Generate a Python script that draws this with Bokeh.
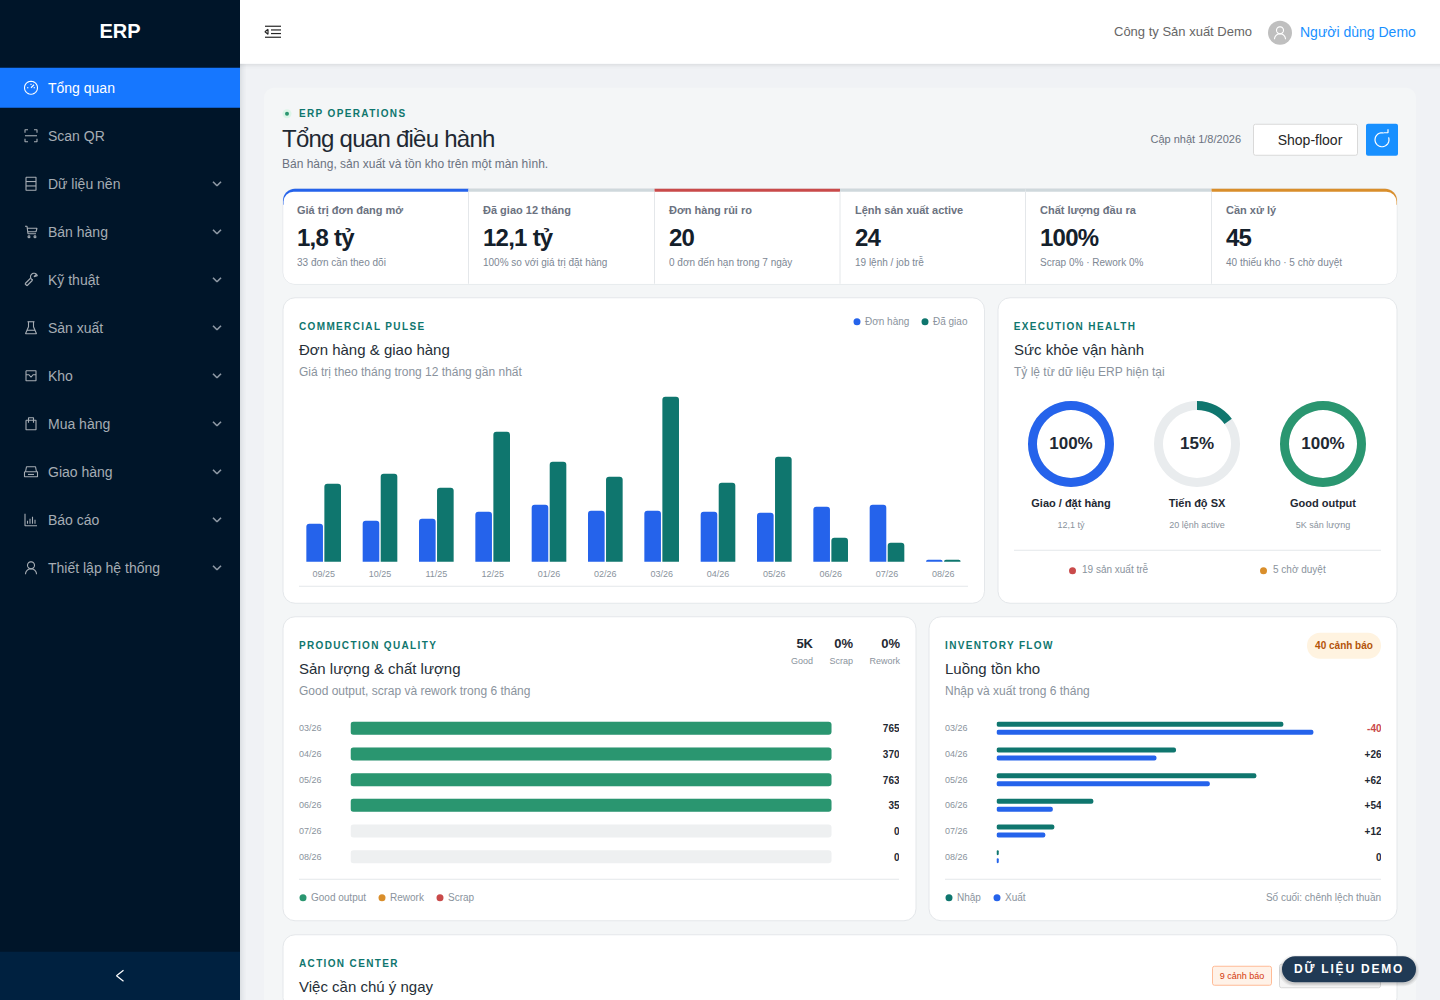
import math
from bokeh.core.properties import value
from bokeh.plotting import figure
from bokeh.layouts import column
from bokeh.models import ColumnDataSource, FactorRange, Range1d
from bokeh.transform import dodge
from bokeh.embed import file_html
from bokeh.resources import INLINE

# ---------- data ----------
menu_items = ["Tổng quan", "Scan QR", "Dữ liệu nền", "Bán hàng", "Kỹ thuật", "Sản xuất", "Kho",
              "Mua hàng", "Giao hàng", "Báo cáo", "Thiết lập hệ thống"]
menu_icons = ["dash", "scan", "db", "cart", "tool", "flask", "inbox", "bag", "car", "chart", "user"]

kpi_labels = ["Giá trị đơn đang mở", "Đã giao 12 tháng", "Đơn hàng rủi ro", "Lệnh sản xuất active",
              "Chất lượng đầu ra", "Cần xử lý"]
kpi_values = ["1,8 tỷ", "12,1 tỷ", "20", "24", "100%", "45"]
kpi_notes = ["33 đơn cần theo dõi", "100% so với giá trị đặt hàng", "0 đơn đến hạn trong 7 ngày",
             "19 lệnh / job trễ", "Scrap 0% · Rework 0%", "40 thiếu kho · 5 chờ duyệt"]

months_12 = ["09/25", "10/25", "11/25", "12/25", "01/26", "02/26", "03/26", "04/26", "05/26", "06/26", "07/26", "08/26"]
orders_value = [485, 523, 548, 638, 727, 650, 650, 638, 625, 701, 727, 25]
delivered_value = [995, 1122, 944, 1658, 1275, 1084, 2104, 1007, 1339, 306, 242, 25]

ring_labels = ["Giao / đặt hàng", "Tiến độ SX", "Good output"]
ring_values = [100, 15, 100]
ring_notes = ["12,1 tỷ", "20 lệnh active", "5K sản lượng"]

months_6 = ["03/26", "04/26", "05/26", "06/26", "07/26", "08/26"]
good_output = [765, 370, 763, 35, 0, 0]
rework_output = [0, 0, 0, 0, 0, 0]
scrap_output = [0, 0, 0, 0, 0, 0]

stock_in = [382, 239, 346, 129, 77, 0]
stock_out = [422, 213, 284, 75, 65, 0]

# ---------- style ----------
FONT = "Liberation Sans"
BLUE, TEAL, GREEN, RED, ORANGE = "#2563eb", "#0f766e", "#2a9670", "#c94a4a", "#d98e2b"
INK, GRAY, MUTED, LINE = "#1f2933", "#6b7280", "#8a939d", "#e4e7ea"
SLATE = "#cfd8dc"
DX, DY = 0.5, 0.25


def layer(left=0, top=0, width=1441, height=1001, spacing=None, x_range=None, y_range=None, **kw):
    styles = {"position": "absolute", "left": f"{left}px", "top": f"{top}px"}
    if spacing:
        styles["letter-spacing"] = spacing
    kw.setdefault("x_axis_location", None)
    kw.setdefault("y_axis_location", None)
    for side in ("left", "right", "top", "bottom"):
        kw.setdefault(f"min_border_{side}", 0)
    p = figure(width=width, height=height, output_backend="svg", toolbar_location=None,
               x_range=x_range if x_range is not None else Range1d(left - DX, left + width - DX),
               y_range=y_range if y_range is not None else Range1d(top + height - DY, top - DY),
               background_fill_color=None, border_fill_color=None, outline_line_color=None,
               frame_align=False, styles=styles, **kw)
    p.grid.visible = False
    return p


def T(p, x, y, s, size, color, bold=False, align="left"):
    p.text(x=[x], y=[y], text=[s], text_font=value(FONT), text_font_size=f"{size}px",
           text_font_style="bold" if bold else "normal", text_color=color,
           text_align=align, text_baseline="middle")


def box(p, l, t, r, b, fill, line=None, radius=0, width=1):
    p.quad(left=[l], right=[r], top=[t], bottom=[b], fill_color=fill, line_color=line,
           line_width=width, border_radius=radius)


def dot(p, x, y, r, color, alpha=1.0):
    p.circle(x=[x], y=[y], radius=r, fill_color=color, fill_alpha=alpha, line_color=None)


def arc(cx, cy, r, a0, a1, n=24):
    return [(cx + r * math.cos(a0 + (a1 - a0) * i / n), cy + r * math.sin(a0 + (a1 - a0) * i / n)) for i in range(n + 1)]


def rect_path(l, t, r, b):
    return [(l, t), (r, t), (r, b), (l, b), (l, t)]


TAU = 2 * math.pi
ICONS = {
    "dash": [arc(0, 0, 6.5, 0, TAU), [(0, 0), (3, -3)], [(-4, 0), (-2.6, 0)], [(0, -4), (0, -2.8)], [(2.6, 0), (4, 0)]],
    "scan": [[(-6, -3), (-6, -6), (-3, -6)], [(3, -6), (6, -6), (6, -3)], [(-6, 3), (-6, 6), (-3, 6)],
             [(3, 6), (6, 6), (6, 3)], [(-6, 0), (6, 0)]],
    "db": [rect_path(-5, -6.5, 5, 6.5), [(-5, -2.2), (5, -2.2)], [(-5, 2.2), (5, 2.2)]],
    "cart": [[(-6, -5.5), (-4, -5.5), (-3, 2), (5, 2)], [(-4, -3.5), (6, -3.5), (5, 0), (-3.4, 0)],
             arc(-2, 5, 1, 0, TAU, 8), arc(4, 5, 1, 0, TAU, 8)],
    "tool": [[(-6, 4), (-0.5, -1.5)], [(-4, 6), (1.5, 0.5)], [(-6, 4), (-4, 6)],
             arc(3, -3, 3.5, 1.9, TAU - 0.3, 14) + [(3, -3), (5.5, -5.5)]],
    "flask": [[(-3.5, -6), (3.5, -6)], [(-2.5, -6), (-2.5, -1), (-5.5, 6), (5.5, 6), (2.5, -1), (2.5, -6)], [(-4, 2.5), (4, 2.5)]],
    "inbox": [rect_path(-5, -5, 5, 5), [(-5, -1), (-2, -1), (0, 1.5), (2, -1), (5, -1)]],
    "bag": [rect_path(-5, -3.5, 5, 6), [(-2.5, -1), (-2.5, -6), (2.5, -6), (2.5, -1)]],
    "car": [[(-5.5, 0), (-4.5, -5), (4.5, -5), (5.5, 0)], rect_path(-6.5, 0, 6.5, 5), [(-3, 2.7), (3, 2.7)]],
    "chart": [[(-6, -6), (-6, 6), (6, 6)], [(-3.5, 4), (-3.5, 1)], [(-1, 4), (-1, -1)], [(1.5, 4), (1.5, -3)], [(4, 4), (4, 0)]],
    "user": [arc(0, -2.5, 3.5, 0, TAU), arc(0, 6.5, 5.5, math.pi, TAU, 14)],
}


def icon(p, kind, cx, cy, color, width=1.1, scale=1.0):
    xs = [[cx + a * scale for a, _ in path] for path in ICONS[kind]]
    ys = [[cy + b * scale for _, b in path] for path in ICONS[kind]]
    p.multi_line(xs=xs, ys=ys, line_color=color, line_width=width)


# ---------- chrome ----------
base = layer()
box(base, 240, -5, 1445, 1005, "#f0f2f5")
box(base, 264, 88, 1416, 1010, "#f4f6f7", radius=10)
for i, a in enumerate([0.07, 0.05, 0.035, 0.02, 0.01]):
    box(base, 240, 64 + i, 1445, 65 + i, "#000000")
    base.renderers[-1].glyph.fill_alpha = a
    base.renderers[-1].glyph.line_alpha = 0
box(base, 240, -5, 1445, 64, "#ffffff")
for i, a in enumerate([0.08, 0.06, 0.045, 0.03, 0.02, 0.01]):
    box(base, 240 + i, 64, 241 + i, 1005, "#001529")
    base.renderers[-1].glyph.fill_alpha = a
box(base, -5, -5, 240, 1005, "#001529")
box(base, -5, 952, 240, 1005, "#002140")
box(base, -5, 68, 240, 108, "#1677ff")
T(base, 120, 31, "ERP", 20, "#ffffff", True, "center")
for i, (name, kind) in enumerate(zip(menu_items, menu_icons)):
    yc = 88 + 48 * i
    col = "#ffffff" if i == 0 else "#a6adb4"
    icon(base, kind, 31, yc, col)
    T(base, 48, yc, name, 14, col)
    if i >= 2:
        base.multi_line(xs=[[213, 217, 221]], ys=[[yc - 2, yc + 2, yc - 2]], line_color="#8e99a5", line_width=1.6)
base.multi_line(xs=[[123.5, 116.5, 123.5]], ys=[[970.5, 976, 981.5]], line_color="#ffffff", line_width=1.2)

# header
base.multi_line(xs=[[265, 281], [271, 281], [271, 281], [265, 281], [268, 265, 268, 268]],
                ys=[[26.5, 26.5], [30.2, 30.2], [33.8, 33.8], [37.5, 37.5], [29.5, 32, 34.5, 29.5]],
                line_color="#262626", line_width=1.2)
T(base, 1114, 32, "Công ty Sản xuất Demo", 13, "#666666")
dot(base, 1280, 33, 12, "#bfbfbf")
icon(base, "user", 1280, 33, "#ffffff", 1.1)
T(base, 1300, 32, "Người dùng Demo", 14, "#1890ff")

# page head
dot(base, 287, 114, 4.5, "#dcf5e8")
dot(base, 287, 114, 2, GREEN)
T(base, 282, 164, "Bán hàng, sản xuất và tồn kho trên một màn hình.", 12, GRAY)
T(base, 1241, 139.5, "Cập nhật 1/8/2026", 11, GRAY, False, "right")
box(base, 1253.5, 124.5, 1357.5, 155.5, "#ffffff", "#d9d9d9", 2)
T(base, 1310, 140, "Shop-floor", 14, "#262626", False, "center")
box(base, 1366, 124, 1398, 156, "#1890ff", None, 2)
base.multi_line(xs=[[p[0] for p in arc(1382, 140, 7, -0.35, TAU - 1.3)], [1384, 1388, 1388]],
                ys=[[p[1] for p in arc(1382, 140, 7, -0.35, TAU - 1.3)], [133, 133, 129.5]],
                line_color="#ffffff", line_width=1.2)

# KPI strip
kpi_edges = [283, 468.5, 654.5, 840, 1025.5, 1211.5, 1397]
kpi_bars = [BLUE, SLATE, RED, SLATE, SLATE, ORANGE]
box(base, 283, 189, 1397, 284.5, "#ffffff", LINE, 12)
for i, col in enumerate(kpi_bars):
    rad = (12, 0, 0, 0) if i == 0 else (0, 12, 0, 0) if i == 5 else 0
    box(base, kpi_edges[i], 189, kpi_edges[i + 1], 205, col, None, rad)
box(base, 283.5, 192, 1396.5, 284, "#ffffff", None, (10, 10, 11, 11))
for i in range(1, 6):
    base.line(x=[kpi_edges[i]] * 2, y=[192, 284], line_color=LINE, line_width=1)
for i, x in enumerate([297, 483, 669, 855, 1040, 1226]):
    T(base, x, 210.5, kpi_labels[i], 11, GRAY, True)
    T(base, x, 262.5, kpi_notes[i], 10, "#7d8794")

# cards
for l, t, r, b in [(283, 298, 984.5, 603.5), (998, 298, 1397, 603.5), (283, 617, 916, 921), (929, 617, 1397, 921), (283, 935, 1397, 1010)]:
    box(base, l, t, r, b, "#ffffff", LINE, 12)

TITLE = "#262f38"
for x, y, title, sub in [(299, 350, "Đơn hàng & giao hàng", "Giá trị theo tháng trong 12 tháng gần nhất"),
                         (1014, 350, "Sức khỏe vận hành", "Tỷ lệ từ dữ liệu ERP hiện tại"),
                         (299, 669, "Sản lượng & chất lượng", "Good output, scrap và rework trong 6 tháng"),
                         (945, 669, "Luồng tồn kho", "Nhập và xuất trong 6 tháng"),
                         (299, 987, "Việc cần chú ý ngay", "")]:
    T(base, x, y, title, 15, TITLE)
    if sub:
        T(base, x, y + 22.5, sub, 12, MUTED)

# commercial legend and divider
dot(base, 857, 322, 3.5, BLUE)
T(base, 865, 322, "Đơn hàng", 10, MUTED)
dot(base, 925, 322, 3.5, TEAL)
T(base, 933, 322, "Đã giao", 10, MUTED)
base.line(x=[299, 968], y=[586.5, 586.5], line_color=LINE)

# health texts
ring_centers = [1071, 1197, 1323]
for cx, lab, note in zip(ring_centers, ring_labels, ring_notes):
    T(base, cx, 503.5, lab, 11, INK, True, "center")
    T(base, cx, 525, note, 9, MUTED, False, "center")
base.line(x=[1014, 1381], y=[550.5, 550.5], line_color=LINE)
dot(base, 1072.5, 571, 3.5, RED)
T(base, 1082, 570, "19 sản xuất trễ", 10, MUTED)
dot(base, 1263.5, 571, 3.5, ORANGE)
T(base, 1273, 570, "5 chờ duyệt", 10, MUTED)

# production stats
for xr, val, lab in [(813, "5K", "Good"), (853, "0%", "Scrap"), (900, "0%", "Rework")]:
    T(base, xr, 643.5, val, 13, INK, True, "right")
    T(base, xr, 661, lab, 9, MUTED, False, "right")
base.line(x=[299, 899], y=[879.5, 879.5], line_color=LINE)
for dx, tx, col, lab in [(303, 311, GREEN, "Good output"), (382, 390, ORANGE, "Rework"), (440, 448, RED, "Scrap")]:
    dot(base, dx, 898, 3.5, col)
    T(base, tx, 898, lab, 10, MUTED)

# inventory extras
box(base, 1307, 633, 1381, 659, "#fff3e0", None, 13)
T(base, 1344, 645.5, "40 cảnh báo", 10, "#b45309", True, "center")
base.line(x=[945, 1381], y=[879.5, 879.5], line_color=LINE)
for dx, tx, col, lab in [(949, 957, TEAL, "Nhập"), (997, 1005, BLUE, "Xuất")]:
    dot(base, dx, 898, 3.5, col)
    T(base, tx, 898, lab, 10, MUTED)
T(base, 1381, 898, "Số cuối: chênh lệch thuần", 10, MUTED, False, "right")

# action center extras
box(base, 1212.5, 966.5, 1271.5, 985.5, "#fff2e8", "#ffbb96", 2)
T(base, 1242, 976, "9 cảnh báo", 9, "#d4380d", False, "center")
box(base, 1279.5, 964.5, 1380.5, 988, "#f5f5f5", "#d9d9d9", 2)

# spaced text layers
tight = layer(spacing="-0.75px")
T(tight, 282, 139, "Tổng quan điều hành", 24, INK)
for x, val in zip([297, 483, 669, 855, 1040, 1226], kpi_values):
    T(tight, x, 238, val, 24, "#14202b", True)

wide = layer(spacing="1.35px")
for x, y, s in [(299, 114, "ERP OPERATIONS"), (299, 326.7, "COMMERCIAL PULSE"), (1013.7, 326.7, "EXECUTION HEALTH"),
                (299, 645.7, "PRODUCTION QUALITY"), (945, 645.7, "INVENTORY FLOW"), (299, 963.7, "ACTION CENTER")]:
    T(wide, x, y, s, 10, TEAL, True)

# ---------- orders vs delivered ----------
bar_x = FactorRange(factors=months_12, range_padding=0)
bars = layer(left=296, top=393, width=676, height=194, x_range=bar_x, y_range=Range1d(-9.5, 2158),
             x_axis_location="below", min_border_bottom=24)
bar_src = ColumnDataSource(dict(month=months_12, orders=orders_value, delivered=delivered_value))
bars.vbar(x=dodge("month", -0.16, range=bar_x), top="orders", bottom=0, width=0.295, source=bar_src,
          fill_color=BLUE, line_color=None, border_radius=(3, 3, 0, 0))
bars.vbar(x=dodge("month", 0.16, range=bar_x), top="delivered", bottom=0, width=0.295, source=bar_src,
          fill_color=TEAL, line_color=None, border_radius=(3, 3, 0, 0))
bars.xaxis.axis_line_color = None
bars.xaxis.major_tick_line_color = None
bars.xaxis.minor_tick_line_color = None
bars.xaxis.major_tick_out = 0
bars.xaxis.major_tick_in = 0
bars.xaxis.major_label_text_font = FONT
bars.xaxis.major_label_text_font_size = "9px"
bars.xaxis.major_label_text_color = MUTED
bars.xaxis.major_label_standoff = 6

# ---------- rings ----------
rings = []
ring_colors = [BLUE, TEAL, GREEN]
for cx, val, col in zip(ring_centers, ring_values, ring_colors):
    r = layer(left=cx - 44, top=400, width=90, height=90, x_range=Range1d(-44.5, 45.5), y_range=Range1d(-45.5, 44.5))
    r.annular_wedge(x=[0], y=[0], inner_radius=34, outer_radius=43, start_angle=0, end_angle=TAU * 0.99999,
                    fill_color="#e9ecee", line_color=None)
    r.annular_wedge(x=[0], y=[0], inner_radius=34, outer_radius=43, start_angle=math.pi / 2,
                    end_angle=math.pi / 2 - TAU * min(val / 100, 0.99999), direction="clock",
                    fill_color=col, line_color=None)
    T(r, 0, 0.5, f"{val}%", 17, INK, True, "center")
    rings.append(r)


# ---------- row charts ----------
def row_chart(left, width, x_end, frame_left):
    y_r = FactorRange(factors=months_6[::-1], range_padding=0)
    f = layer(left=left, top=716, width=width, height=154, x_range=Range1d(0, x_end), y_range=y_r,
              y_axis_location="left", min_border_left=frame_left)
    f.yaxis.axis_line_color = None
    f.yaxis.major_tick_line_color = None
    f.yaxis.minor_tick_line_color = None
    f.yaxis.major_tick_out = 0
    f.yaxis.major_tick_in = 0
    f.yaxis.major_label_text_font = FONT
    f.yaxis.major_label_text_font_size = "9px"
    f.yaxis.major_label_text_color = MUTED
    f.yaxis.major_label_standoff = frame_left - 27
    return f, y_r


# production: each row is a 100% share bar
totals = [g + r + s for g, r, s in zip(good_output, rework_output, scrap_output)]
good_share = [g / t if t else 0 for g, t in zip(good_output, totals)]
rework_share = [r / t if t else 0 for r, t in zip(rework_output, totals)]
prod_end = 549 / 481
prod, prod_y = row_chart(295, 605, prod_end, 56)
prod_src = ColumnDataSource(dict(
    month=months_6, zero=[0] * 6, one=[1] * 6, good=good_share,
    rework=[g + r for g, r in zip(good_share, rework_share)],
    full=[1 if t else 0 for t in totals], end=[prod_end] * 6, label=[str(v) for v in good_output]))
prod.hbar(y="month", left="zero", right="one", height=0.506, source=prod_src, fill_color="#eef0f1", line_color=None, border_radius=3)
prod.hbar(y="month", left="rework", right="full", height=0.506, source=prod_src, fill_color=RED, line_color=None, border_radius=3)
prod.hbar(y="month", left="zero", right="good", height=0.506, source=prod_src, fill_color=GREEN, line_color=None, border_radius=3)
prod.text(x="end", y="month", text="label", source=prod_src, text_font=value(FONT), text_font_size="10px",
          text_font_style="bold", text_color=INK, text_align="right", text_baseline="middle")

# inventory: paired bars, zero rows keep a thin marker
stock_end = 385 / 0.751
MIN_MARK = 3
net = [a - b for a, b in zip(stock_in, stock_out)]
stock, stock_y = row_chart(941, 441, stock_end, 56)
stock_src = ColumnDataSource(dict(
    month=months_6, zero=[0] * 6, inn=[max(v, MIN_MARK) for v in stock_in], out=[max(v, MIN_MARK) for v in stock_out],
    end=[stock_end] * 6, label=[f"{v:+d}" if v else "0" for v in net], col=[RED if v < 0 else INK for v in net]))
stock.hbar(y=dodge("month", 0.156, range=stock_y), left="zero", right="inn", height=0.195, source=stock_src,
           fill_color=TEAL, line_color=None, border_radius=2)
stock.hbar(y=dodge("month", -0.156, range=stock_y), left="zero", right="out", height=0.195, source=stock_src,
           fill_color=BLUE, line_color=None, border_radius=2)
stock.text(x="end", y="month", text="label", source=stock_src, text_font=value(FONT), text_font_size="10px",
           text_font_style="bold", text_color="col", text_align="right", text_baseline="middle")

# ---------- floating pill ----------
pill = layer(spacing="1.8px")
for i, a in enumerate([0.05, 0.06, 0.07]):
    box(pill, 1282 - 3 + i, 956.5 - 1 + i, 1416 + 3 - i, 982.5 + 4 - i, "#000000", None, 15)
    pill.renderers[-1].glyph.fill_alpha = a
box(pill, 1282, 956.5, 1416, 982.5, "#203a55", None, 13)
T(pill, 1294, 969.5, "DỮ LIỆU DEMO", 12, "#ffffff", True)

root = column(base, tight, wide, bars, *rings, prod, stock, pill, width=1441, height=1001,
              styles={"position": "absolute", "left": "-1px", "top": "-1px"})

open("out.html", "w").write(file_html(root, INLINE))
